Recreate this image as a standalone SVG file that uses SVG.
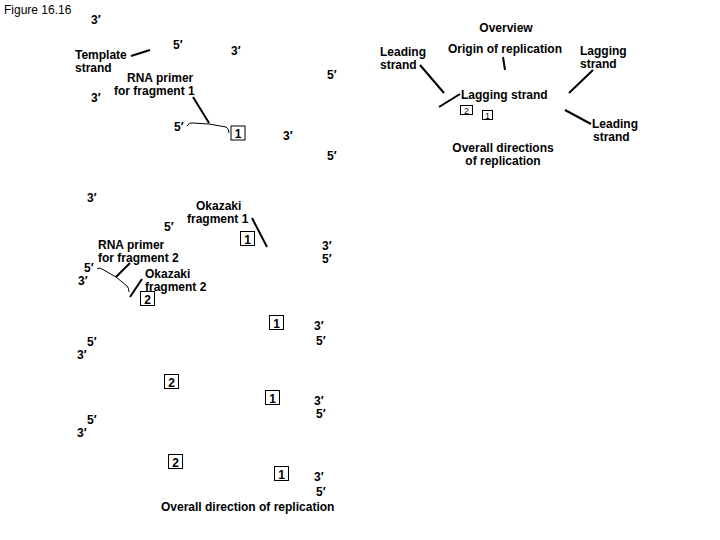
<svg xmlns="http://www.w3.org/2000/svg" width="720" height="540" viewBox="0 0 720 540">
<style>
text{font-family:"Liberation Sans",Arial,sans-serif;font-size:12px;font-weight:bold;fill:#000}
.n{font-weight:normal}
.s{font-size:9px;font-weight:normal}
.c{text-anchor:middle}
.ln{stroke:#000;stroke-width:2;fill:none}
.th{stroke:#000;stroke-width:1;fill:none}
.bx{stroke:#000;stroke-width:1;fill:#fff}
</style>
<rect width="720" height="540" fill="#fff"/>
<g id="title"><text class="n" x="4" y="14">Figure 16.16</text></g>

<g id="connectors">
<line class="ln" x1="131" y1="56" x2="150" y2="50"/>
<line class="ln" x1="193" y1="97" x2="209" y2="123"/>
<path class="th" d="M187,126 Q189,122 193,123 L209,124 L226,127 Q229,128 229,133"/>
<line class="ln" x1="420" y1="65" x2="444" y2="93"/>
<line class="ln" x1="503" y1="57" x2="505" y2="70"/>
<line class="ln" x1="439" y1="107" x2="460" y2="94"/>
<line class="ln" x1="569" y1="93" x2="593" y2="70"/>
<line class="ln" x1="565" y1="110" x2="591" y2="124"/>
<line class="ln" x1="252" y1="218" x2="267" y2="247"/>
<path class="th" d="M97,269 Q99,267 102,269 L116,277 L127,286 Q129,288 129,292"/>
<line class="ln" x1="116" y1="277" x2="130" y2="263"/>
<line class="ln" x1="130" y1="297" x2="142" y2="279"/>
</g>

<g id="top-labels">
<text x="91" y="24">3′</text>
<text x="75" y="59">Template</text>
<text x="75" y="72">strand</text>
<text x="173" y="49">5′</text>
<text x="231" y="55">3′</text>
<text x="327" y="79">5′</text>
<text x="127" y="82">RNA primer</text>
<text x="114" y="95">for fragment 1</text>
<text x="91" y="102">3′</text>
<text x="174" y="131">5′</text>
<text x="283" y="140">3′</text>
<text x="327" y="160">5′</text>
</g>
<g id="box1-a"><rect class="bx" x="231" y="126" width="14" height="14"/><text class="c" x="238" y="138">1</text></g>

<g id="overview">
<text class="c" x="506" y="32">Overview</text>
<text x="380" y="56">Leading</text>
<text x="380" y="69">strand</text>
<text x="448" y="53">Origin of replication</text>
<text x="580" y="55">Lagging</text>
<text x="580" y="68">strand</text>
<text x="461" y="99">Lagging strand</text>
<text x="592" y="128">Leading</text>
<text x="593" y="141">strand</text>
<text class="c" x="503" y="152">Overall directions</text>
<text class="c" x="503" y="165">of replication</text>
</g>
<g id="ov-box2"><rect class="bx" x="460.5" y="105.5" width="12" height="9"/><text class="s c" x="466.5" y="113.5">2</text></g>
<g id="ov-box1"><rect class="bx" x="482.5" y="110.5" width="10" height="9"/><text class="s c" x="487.5" y="118.5">1</text></g>

<g id="mid-labels">
<text x="87" y="202">3′</text>
<text x="196" y="210">Okazaki</text>
<text x="187" y="223">fragment 1</text>
<text x="164" y="231">5′</text>
<text x="322" y="250">3′</text>
<text x="322" y="263">5′</text>
<text x="98" y="249">RNA primer</text>
<text x="98" y="262">for fragment 2</text>
<text x="84" y="272">5′</text>
<text x="78" y="285">3′</text>
<text x="145" y="278">Okazaki</text>
<text x="145" y="291">fragment 2</text>
</g>
<g id="box1-b"><rect class="bx" x="240.5" y="231.5" width="14" height="14"/><text class="c" x="247.5" y="243.5">1</text></g>
<g id="box2-b"><rect class="bx" x="140.5" y="291.5" width="14" height="14"/><text class="c" x="147.5" y="303.5">2</text></g>

<g id="lower-labels">
<text x="314" y="330">3′</text>
<text x="316" y="345">5′</text>
<text x="87" y="346">5′</text>
<text x="77" y="359">3′</text>
<text x="314" y="405">3′</text>
<text x="316" y="418">5′</text>
<text x="87" y="424">5′</text>
<text x="77" y="437">3′</text>
<text x="314" y="481">3′</text>
<text x="316" y="496">5′</text>
<text x="161" y="511">Overall direction of replication</text>
</g>
<g id="box1-c"><rect class="bx" x="269.5" y="315.5" width="14" height="14"/><text class="c" x="276.5" y="327.5">1</text></g>
<g id="box2-d"><rect class="bx" x="164.5" y="374.5" width="14" height="14"/><text class="c" x="171.5" y="386.5">2</text></g>
<g id="box1-d"><rect class="bx" x="265.5" y="390.5" width="14" height="14"/><text class="c" x="272.5" y="402.5">1</text></g>
<g id="box2-e"><rect class="bx" x="168.5" y="454.5" width="14" height="14"/><text class="c" x="175.5" y="466.5">2</text></g>
<g id="box1-e"><rect class="bx" x="274.5" y="466.5" width="14" height="14"/><text class="c" x="281.5" y="478.5">1</text></g>
</svg>
